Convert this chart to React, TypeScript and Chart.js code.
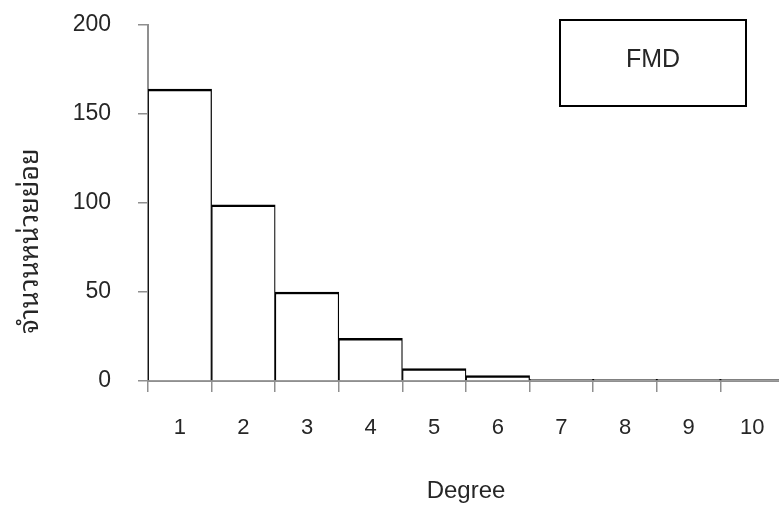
import React, { useEffect, useRef } from "react";
import { Chart, registerables } from "chart.js";

Chart.register(...registerables);

const categories = ["1", "2", "3", "4", "5", "6", "7", "8", "9", "10"];
const counts = [164, 99, 50, 24, 7, 3, 1, 1, 1, 1];
const seriesName = "FMD";
const yTickValues = [0, 50, 100, 150, 200];
const xTitle = "Degree";
const yTitle = "จำนวนหน่วยย่อย";

const LATIN = "'Liberation Sans', Arial, Helvetica, sans-serif";
const THAI =
  "'Noto Sans Thai Looped', 'Loma', 'Garuda', 'Norasi', 'Tlwg Typo', 'Kinnari', 'Liberation Sans', sans-serif";
const TEXT = "#262626";
const AXIS = "#8f8f8f";

const overlayPlugin = {
  id: "overlay",
  afterDraw(chart: any) {
    const { ctx, chartArea } = chart;
    ctx.save();
    // y-axis title (rotated)
    const cy = chartArea.top + (chartArea.bottom - chartArea.top) * 0.607;
    ctx.translate(38, cy);
    ctx.rotate(-Math.PI / 2);
    ctx.font = `27px ${THAI}`;
    ctx.fillStyle = TEXT;
    ctx.textAlign = "center";
    ctx.textBaseline = "alphabetic";
    ctx.fillText(yTitle, 0, 0);
    ctx.restore();

    // legend box
    const bx = chartArea.right - 224;
    const by = chartArea.top - 5;
    const bw = 186;
    const bh = 86;
    ctx.save();
    ctx.fillStyle = "#ffffff";
    ctx.fillRect(bx, by, bw, bh);
    ctx.strokeStyle = "#000000";
    ctx.lineWidth = 2;
    ctx.strokeRect(bx, by, bw, bh);
    ctx.fillStyle = TEXT;
    ctx.font = `25px ${LATIN}`;
    ctx.textAlign = "center";
    ctx.textBaseline = "middle";
    ctx.fillText(chart.data.datasets[0].label, bx + bw / 2, by + bh / 2 - 3);
    ctx.restore();
  },
};

export default function App() {
  const ref = useRef<HTMLCanvasElement | null>(null);

  useEffect(() => {
    if (!ref.current) return;
    const chart = new Chart(ref.current, {
      type: "bar",
      data: {
        labels: categories,
        datasets: [
          {
            label: seriesName,
            data: counts,
            backgroundColor: "#ffffff",
            borderColor: "#000000",
            borderWidth: { top: 2.5, left: 1.25, right: 1.25, bottom: 0 },
            borderSkipped: "start",
            barPercentage: 1,
            categoryPercentage: 1,
          },
        ],
      },
      options: {
        responsive: false,
        animation: false,
        layout: { autoPadding: false, padding: { top: 0, right: 16, left: 0, bottom: 0 } },
        plugins: {
          legend: { display: false },
          title: { display: false },
          tooltip: { enabled: false },
        },
        scales: {
          x: {
            offset: true,
            grid: {
              display: true,
              offset: true,
              drawOnChartArea: false,
              drawTicks: true,
              tickLength: 11,
              color: AXIS,
              lineWidth: 1.5,
            },
            border: { display: true, color: AXIS, width: 2 },
            ticks: {
              color: TEXT,
              font: { family: LATIN, size: 22 },
              padding: 23,
              maxRotation: 0,
              autoSkip: false,
            },
            title: {
              display: true,
              text: xTitle,
              color: TEXT,
              font: { family: LATIN, size: 24 },
              padding: { top: 0, bottom: 8 },
            },
            afterFit: (s: any) => {
              s.height = 133;
            },
          },
          y: {
            min: 0,
            max: 200,
            grid: {
              display: true,
              drawOnChartArea: false,
              drawTicks: true,
              tickLength: 10,
              color: AXIS,
              lineWidth: 1.5,
            },
            border: { display: true, color: AXIS, width: 2 },
            ticks: {
              color: TEXT,
              font: { family: LATIN, size: 23 },
              padding: 27,
            },
            afterBuildTicks: (s: any) => {
              s.ticks = yTickValues.map((v) => ({ value: v }));
            },
            afterFit: (s: any) => {
              s.width = 148;
              s.paddingTop = 25;
              s.paddingBottom = 0;
            },
          },
        },
      },
      plugins: [overlayPlugin],
    });
    return () => chart.destroy();
  }, []);

  return (
    <div
      style={{
        position: "fixed",
        left: 0,
        top: 0,
        width: 779,
        height: 514,
        overflow: "hidden",
        background: "#ffffff",
      }}
    >
      <canvas ref={ref} width={800} height={514} style={{ display: "block" }} />
    </div>
  );
}
